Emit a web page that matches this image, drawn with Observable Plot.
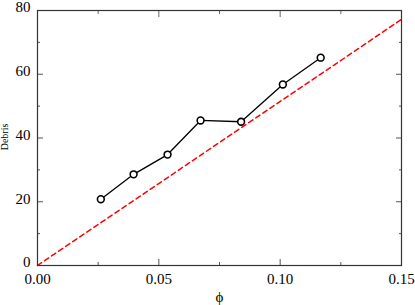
<!DOCTYPE html>
<html><head><meta charset="utf-8">
<script src="https://cdn.jsdelivr.net/npm/d3@7"></script>
<script src="https://cdn.jsdelivr.net/npm/@observablehq/plot@0.6"></script>
<style>body{margin:0;background:#fff}</style>
</head><body><div id="chart"></div>
<script>
const phi = [0.0261, 0.0396, 0.0536, 0.0672, 0.0839, 0.1011, 0.1167];
const debris = [20.8, 28.6, 34.8, 45.5, 45.1, 56.8, 65.2];
const refX = [0, 0.15];
const refY = [0, 77.2];
const xMajor = [0, 0.05, 0.10, 0.15];
const xMinor = [0.025, 0.075, 0.125];
const yMajor = [0, 20, 40, 60, 80];
const yMinor = [10, 30, 50, 70];
const xLabels = ["0.00", "0.05", "0.10", "0.15"];

const pts = phi.map((x, i) => ({x, y: debris[i]}));
const ref = refX.map((x, i) => ({x, y: refY[i]}));
const FF = "Liberation Serif";

const chart = Plot.plot({
  width: 415, height: 305,
  marginLeft: 37, marginRight: 14, marginTop: 10, marginBottom: 40,
  style: {fontFamily: FF, fontSize: "15px", color: "#000", background: "#fff"},
  x: {domain: [0, 0.15]},
  y: {domain: [0, 80]},
  marks: [
    Plot.line(ref, {x: "x", y: "y", stroke: "#ff0000", strokeWidth: 1.5, strokeDasharray: "5,3.5"}),
    Plot.line(pts, {x: "x", y: "y", stroke: "#000", strokeWidth: 1.3}),
    Plot.dot(pts, {x: "x", y: "y", r: 3.4, stroke: "#000", fill: "#fff", strokeWidth: 1.6}),
    Plot.axisX(xMajor, {anchor: "bottom", tickSize: -6, tickPadding: 14, tickFormat: (d) => xLabels[xMajor.indexOf(d)], stroke: "#555", fontSize: 15, fontFamily: FF, label: "ϕ", labelAnchor: "center", labelOffset: 36, labelArrow: false}),
    Plot.axisX(xMinor, {anchor: "bottom", tickSize: -3, text: null, stroke: "#555", label: null}),
    Plot.axisX(xMajor, {anchor: "top", tickSize: -6, text: null, stroke: "#666", label: null}),
    Plot.axisX(xMinor, {anchor: "top", tickSize: -3, text: null, stroke: "#666", label: null}),
    Plot.axisY(yMajor, {anchor: "left", tickSize: 0, tickPadding: 7, fontSize: 15, fontFamily: FF, dy: -3, label: null}),
    Plot.axisY(yMajor, {anchor: "left", tickSize: -6, text: null, stroke: "#555", label: null}),
    Plot.axisY(yMinor, {anchor: "left", tickSize: -3, text: null, stroke: "#555", label: null}),
    Plot.axisY(yMajor, {anchor: "right", tickSize: -6, text: null, stroke: "#555", label: null}),
    Plot.axisY(yMinor, {anchor: "right", tickSize: -3, text: null, stroke: "#555", label: null}),
    Plot.frame({stroke: "#333", strokeWidth: 1.2})
  ]
});
const svg = d3.select(chart);
svg.selectAll("text").attr("font-family", FF).style("font-family", FF);
svg.append("text").attr("transform", "translate(8,137) rotate(-90)")
  .attr("text-anchor", "middle").attr("font-size", 10).attr("font-family", FF).style("font-family", FF).text("Debris");
document.getElementById("chart").appendChild(chart);
</script></body></html>
